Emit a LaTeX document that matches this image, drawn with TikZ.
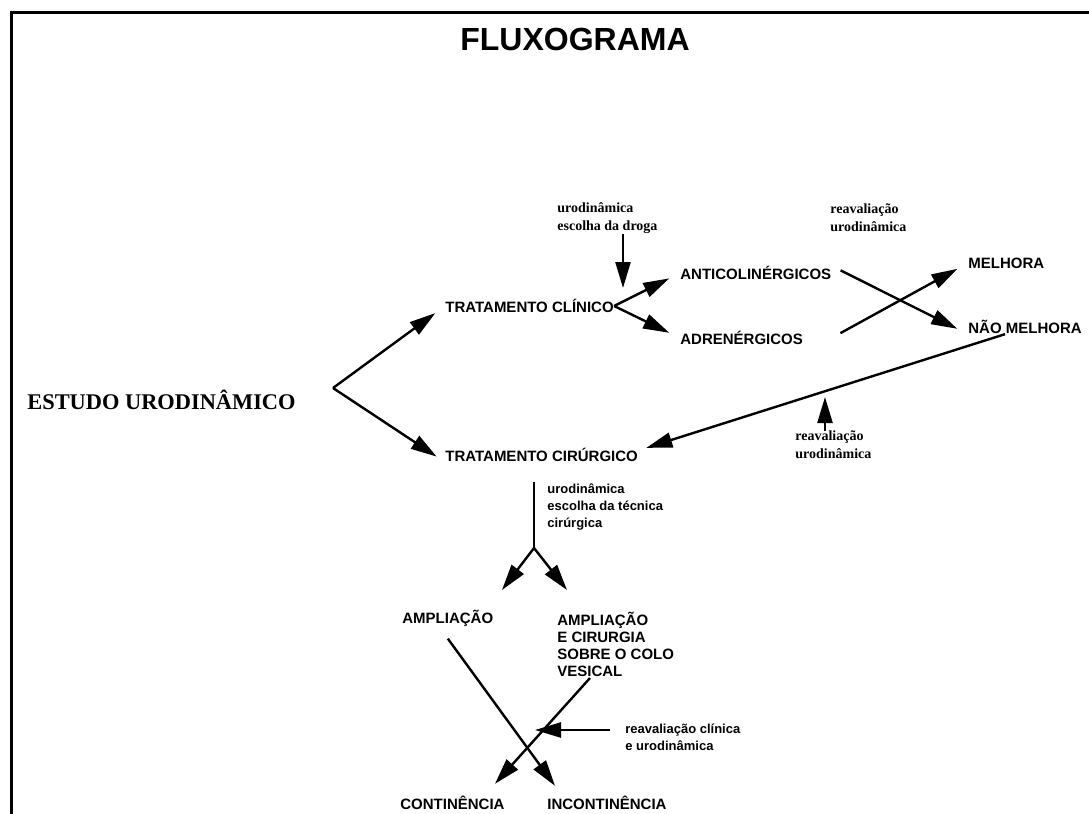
\documentclass[tikz,border=0pt]{standalone}
\usepackage{fontspec}
\setmainfont{Liberation Serif}
\setsansfont{Liberation Sans}
\usetikzlibrary{arrows.meta}

\begin{document}
\begin{tikzpicture}[x=0.5pt,y=-0.5pt,
    caixa/.style={font=\sffamily\bfseries\fontsize{7.5}{8.5}\selectfont, anchor=west, align=left, inner sep=0pt},
    nota/.style={font=\bfseries\fontsize{7}{9}\selectfont, anchor=west, align=left, inner sep=0pt},
    notasf/.style={font=\sffamily\bfseries\fontsize{6.5}{8.5}\selectfont, anchor=west, align=left, inner sep=0pt},
    seta/.style={-{Triangle[length=13pt,width=7.5pt]}, line width=1.2pt},
    traco/.style={line width=1.2pt}]
    \useasboundingbox (0,0) rectangle (1089,814);
    \draw[line width=1.5pt] (1089,12) -- (11,12) -- (11,814);  %moldura
    \node[font=\sffamily\bfseries\fontsize{16}{18}\selectfont] (titulo) at (575,39) {FLUXOGRAMA};
    \node[font=\bfseries\fontsize{11.2}{13}\selectfont, anchor=west, inner sep=0pt] (estudo) at (27,400) {ESTUDO URODINÂMICO};
    \node[caixa] (clinico) at (445,306) {TRATAMENTO CLÍNICO};
    \node[caixa] (cirurgico) at (445,455) {TRATAMENTO CIRÚRGICO};
    \node[caixa] (anticol) at (680,273) {ANTICOLINÉRGICOS};
    \node[caixa] (adren) at (680,338) {ADRENÉRGICOS};
    \node[caixa] (melhora) at (968,263) {MELHORA};
    \node[caixa] (naomelhora) at (968,327) {NÃO MELHORA};
    \node[caixa] (ampl) at (402,618) {AMPLIAÇÃO};
    \node[caixa] (amplcir) at (557,644) {AMPLIAÇÃO\\E CIRURGIA\\SOBRE O COLO\\VESICAL};
    \node[caixa] (contin) at (400,803) {CONTINÊNCIA};
    \node[caixa] (incontin) at (547,803) {INCONTINÊNCIA};
    \node[nota] (notadroga) at (557,218) {urodinâmica\\escolha da droga};  %notas pequenas
    \node[nota] (notareav1) at (830,218) {reavaliação\\urodinâmica};
    \node[nota] (notareav2) at (795,445) {reavaliação\\urodinâmica};
    \node[notasf] (notatecnica) at (547,507) {urodinâmica\\escolha da técnica\\cirúrgica};
    \node[notasf] (notaclinica) at (625,737) {reavaliação clínica\\e urodinâmica};
    \coordinate (bif1) at (333,388);  %pontos livres
    \coordinate (dtip) at (623,288);
    \coordinate (reavtip) at (825,397);
    \coordinate (cirbase) at (534,482);
    \coordinate (bif3) at (534,548);
    \coordinate (pA) at (502,590);
    \coordinate (pB) at (567,590);
    \coordinate (vesical) at (590,678);
    \coordinate (clintail) at (610,730);
    \coordinate (clintip) at (535,730);
    \draw[seta, shorten >=6pt] (bif1) -- (clinico.west);
    \draw[seta, shorten >=5pt] (bif1) -- (cirurgico.south west);
    \draw[seta] (notadroga.south -| dtip) -- (dtip);
    \draw[seta, shorten >=6pt] (clinico.east) -- (anticol.west);
    \draw[seta, shorten >=6pt] (clinico.east) -- (adren.west);
    \draw[seta, shorten <=5pt, shorten >=6pt] (anticol.north east) -- (naomelhora.south west);
    \draw[seta, shorten <=5pt, shorten >=6pt] (adren.east -| anticol.east) -- (melhora.west);
    \draw[seta] ([xshift=-10pt]naomelhora.south) -- ([xshift=4pt]cirurgico.north east);
    \draw[seta] (notareav2.north -| reavtip) -- (reavtip);
    \draw[traco] (cirbase) -- (bif3);
    \draw[seta] (bif3) -- (pA);
    \draw[seta] (bif3) -- (pB);
    \draw[seta] ([yshift=-6pt]ampl.south) -- ([xshift=4pt,yshift=5pt]incontin.north west);
    \draw[seta] (vesical) -- ([xshift=-5pt,yshift=6pt]contin.north east);
    \draw[seta] (clintail) -- (clintip);
\end{tikzpicture}
\end{document}
